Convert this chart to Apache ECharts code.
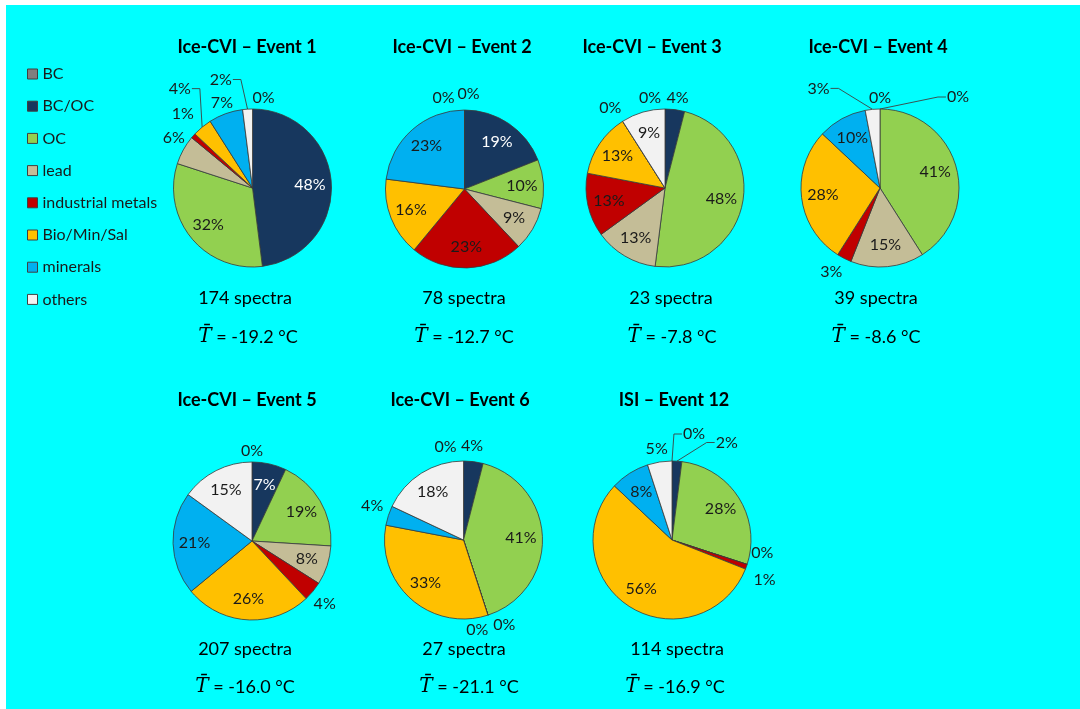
<!DOCTYPE html>
<html><head><meta charset="utf-8">
<script src="https://cdn.jsdelivr.net/npm/echarts@6/dist/echarts.min.js"></script>
<style>html,body{margin:0;padding:0;background:#fff}#c{width:1080px;height:709px}</style>
</head><body><div id="c"></div>
<script>
// ---- data ----
const categories = ['BC','BC/OC','OC','lead','industrial metals','Bio/Min/Sal','minerals','others'];
const event1  = [0,48,32,6,1,4,7,2];
const event2  = [0,19,10,9,23,16,23,0];
const event3  = [0,4,48,13,13,13,0,9];
const event4  = [0,0,41,15,3,28,10,3];
const event5  = [0,7,19,8,4,26,21,15];
const event6  = [0,4,41,0,0,33,4,18];
const event12 = [0,2,28,0,1,56,8,5];
const eventTitles = ['Ice-CVI \u2013 Event 1','Ice-CVI \u2013 Event 2','Ice-CVI \u2013 Event 3','Ice-CVI \u2013 Event 4','Ice-CVI \u2013 Event 5','Ice-CVI \u2013 Event 6','ISI \u2013 Event 12'];
const spectraCounts = [174,78,23,39,207,27,114];
const meanTemps = ['-19.2','-12.7','-7.8','-8.6','-16.0','-21.1','-16.9'];
const allEvents = [event1,event2,event3,event4,event5,event6,event12];

// ---- style / layout ----
const colors = ['#7F7F7F','#17375E','#92D050','#C4BD97','#C00000','#FFC000','#00B0F0','#F2F2F2'];
const R = 79;
const GAP = 3;
const layout = [
  {c:[252.5,188], tx:247, ty:47,  sx:245, sy:298, tx2:248, ty2:337},
  {c:[464.5,189], tx:462, ty:47,  sx:464, sy:298, tx2:464, ty2:337},
  {c:[665,188],   tx:652, ty:47,  sx:671, sy:298, tx2:672, ty2:337},
  {c:[880,188],   tx:878, ty:47,  sx:876, sy:298, tx2:876, ty2:337},
  {c:[252,541],   tx:247, ty:400, sx:245, sy:649, tx2:245, ty2:687},
  {c:[463.5,540], tx:460, ty:400, sx:464, sy:649, tx2:469, ty2:687},
  {c:[672,540],   tx:674, ty:400, sx:677, sy:649, tx2:675, ty2:687}
];
// label placement per slice: in = inside, out = outside end, lead = outside with leader line
const labelModes = [
  ['out','in','in','out','out','lead','out','lead'],
  ['out','in','in','in','in','in','in','out'],
  ['out','out','in','in','in','in','out','in'],
  ['out','lead','in','in','out','in','in','lead'],
  ['out','in','in','in','out','in','in','in'],
  ['out','out','in','out','out','in','out','in'],
  ['lead','lead','in','out','out','in','in','out']
];
// small hand offsets of outside labels (like dragged labels in the original)
const labelNudge = [
  [[11,0],[0,0],[0,0],[5,-4],[2,-11],[-12,-26],[1,3],[-26,-18]],
  [[4,-5],[0,0],[0,0],[0,0],[0,0],[0,0],[0,0],[-21,-1]],
  [[-15,0],[1,0],[0,0],[0,0],[0,0],[0,0],[-4,0],[0,0]],
  [[0,0],[78,-1],[0,0],[0,0],[-6,0],[0,0],[0,0],[-53,-9]],
  [[0,0],[0,0],[0,0],[0,0],[-1,2],[0,0],[0,0],[0,0]],
  [[-18,-3],[-3,-4],[0,0],[-15,1],[12,-4],[0,0],[-1,-5],[0,0]],
  [[22,-16],[49,-7],[0,0],[0,-17],[3,8],[0,0],[0,0],[-1,-1]]
];
const FONT = 'Lato';
const txtColor = '#1a1a1a';

function outsideLabel(k){
  const vals = allEvents[k], L = layout[k], nud = labelNudge[k], modes = labelModes[k];
  const total = vals.reduce((a,b)=>a+b,0);
  return function(p){
    const i = p.dataIndex;
    let before = 0; for (let j=0;j<i;j++) before += vals[j];
    const a = (before + vals[i]/2)/total * 2*Math.PI;
    const sx = Math.sin(a), sy = -Math.cos(a);
    const w = p.labelRect.width, h = p.labelRect.height;
    const d = R + GAP + Math.abs(sx)*w/2 + Math.abs(sy)*h/2;
    const x = L.c[0] + sx*d + nud[i][0], y = L.c[1] + sy*d + nud[i][1];
    const res = {x:x, y:y, align:'center', verticalAlign:'middle'};
    if (modes[i] === 'lead') {
      const ax = L.c[0] + sx*R, ay = L.c[1] + sy*R;
      const right = x > ax;
      const edgeX = right ? x - w/2 - 1 : x + w/2 + 1;
      const elbowX = right ? edgeX - 8 : edgeX + 8;
      res.labelLinePoints = [[ax,ay],[elbowX,y],[edgeX,y]];
    }
    return res;
  };
}

const series = [];
allEvents.forEach((vals, k) => {
  const L = layout[k], modes = labelModes[k];
  series.push({
    type:'pie', center:L.c, radius:[0,R], startAngle:90, clockwise:true,
    animation:false, avoidLabelOverlap:false,
    itemStyle:{borderColor:'#3a3a3a', borderWidth:0.8},
    label:{show:true, position:'outside', formatter:'{c}%', fontSize:16, color:txtColor, fontFamily:FONT},
    labelLine:{show:false, length:5, length2:0},
    labelLayout: outsideLabel(k),
    data: vals.map((v,i)=>({
      name:categories[i], value:v, itemStyle:{color:colors[i]},
      label:{show: modes[i] !== 'in'},
      labelLine: modes[i]==='lead' ? {show:true, lineStyle:{color:'#404040', width:0.9}} : {show:false}
    }))
  });
  series.push({
    type:'pie', center:L.c, radius:[R*0.38,R], startAngle:90, clockwise:true,
    animation:false, silent:true, avoidLabelOverlap:false,
    itemStyle:{color:'rgba(0,0,0,0)', borderWidth:0},
    label:{show:true, position:'inside', formatter:'{c}%', fontSize:16, color:txtColor, fontFamily:FONT},
    labelLine:{show:false},
    data: vals.map((v,i)=>({
      name:categories[i], value:v,
      label:{show: modes[i]==='in', color: i===1 ? '#ffffff' : txtColor}
    }))
  });
});

const graphics = [{type:'rect', z:-10, shape:{x:6,y:5,width:1074,height:704}, style:{fill:'#00FFFF'}}];
layout.forEach((L,k)=>{
  graphics.push({type:'text', x:L.tx, y:L.ty, style:{text:eventTitles[k], font:'bold 18px '+FONT, fill:'#000', align:'center', verticalAlign:'middle'}});
  graphics.push({type:'text', x:L.sx, y:L.sy, style:{text:spectraCounts[k]+' spectra', font:'18px '+FONT, fill:'#000', align:'center', verticalAlign:'middle'}});
  graphics.push({type:'text', x:L.tx2, y:L.ty2, style:{text:'{t|T\u0304} = '+meanTemps[k]+' \u00B0C', font:'18px '+FONT, fill:'#000', align:'center', verticalAlign:'middle',
     rich:{t:{fontFamily:'DejaVu Serif', fontStyle:'italic', fontSize:20, fill:'#000'}}}});
});

const chart = echarts.init(document.getElementById('c'), null, {renderer:'canvas'});
chart.setOption({
  animation:false,
  backgroundColor:'#ffffff',
  legend:{
    orient:'vertical', left:27, top:64, padding:0, itemWidth:10, itemHeight:10, itemGap:12.2, icon:'rect',
    data:categories,
    itemStyle:{borderColor:'#404040', borderWidth:1},
    textStyle:{fontFamily:FONT, fontSize:16, color:txtColor, lineHeight:20}
  },
  graphic: graphics,
  series: series
});
</script>
</body></html>
